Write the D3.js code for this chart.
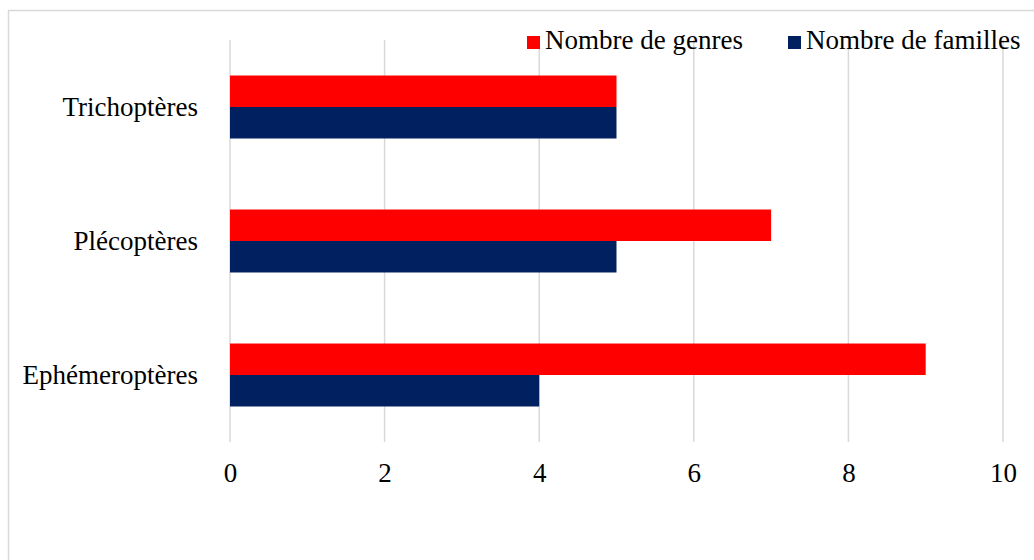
<!DOCTYPE html>
<html>
<head>
<meta charset="utf-8">
<script src="https://cdn.jsdelivr.net/npm/d3@7"></script>
<style>
  html, body { margin: 0; padding: 0; background: #fff; }
  svg { display: block; }
</style>
</head>
<body>
<svg id="chart" width="1034" height="560"></svg>
<script>
// Orders of aquatic insects, listed bottom to top as in the chart
const categories = ["Ephémeroptères", "Plécoptères", "Trichoptères"];
const seriesNames = ["Nombre de genres", "Nombre de familles"];
const genres = [9, 7, 5];
const familles = [4, 5, 5];
const xTicks = [0, 2, 4, 6, 8, 10];
const colors = ["#ff0000", "#002060"];

const svg = d3.select("#chart");
const W = 1034, H = 560;
const margin = { left: 230, right: 31, top: 40, bottom: 118 };
const fontSize = 27;
const serif = "'Liberation Serif', 'Times New Roman', serif";

// outer frame of the chart area
svg.append("rect")
  .attr("x", 8.5).attr("y", 10.5)
  .attr("width", 1040).attr("height", 560)
  .attr("fill", "none").attr("stroke", "#d9d9d9").attr("stroke-width", 1.5);

const x = d3.scaleLinear().domain([0, 10]).range([margin.left, W - margin.right]);
const y = d3.scaleBand()
  .domain(categories.slice().reverse())
  .range([margin.top, H - margin.bottom])
  .paddingInner(0.53).paddingOuter(0.265);
const ySeries = d3.scaleBand().domain(seriesNames).range([0, y.bandwidth()]);

// vertical gridlines
svg.append("g").selectAll("line").data(xTicks).join("line")
  .attr("x1", d => x(d)).attr("x2", d => x(d))
  .attr("y1", margin.top).attr("y2", H - margin.bottom)
  .attr("stroke", "#d9d9d9").attr("stroke-width", 1.5);

// bars
const rows = categories.map((c, i) => ({ cat: c, values: [genres[i], familles[i]] }));
const groups = svg.append("g").selectAll("g").data(rows).join("g")
  .attr("transform", d => `translate(0,${y(d.cat)})`);
groups.selectAll("rect")
  .data(d => d.values.map((v, j) => ({ name: seriesNames[j], v, j })))
  .join("rect")
  .attr("x", x(0))
  .attr("y", d => ySeries(d.name))
  .attr("width", d => x(d.v) - x(0))
  .attr("height", ySeries.bandwidth())
  .attr("fill", d => colors[d.j]);

// x axis labels (no axis line)
const xAxis = d3.axisBottom(x).tickValues(xTicks).tickSize(0).tickPadding(0);
const gx = svg.append("g").attr("transform", `translate(0,${H - margin.bottom})`).call(xAxis);
gx.select(".domain").remove();
gx.selectAll("text")
  .attr("y", 40).attr("dy", 0)
  .style("font-size", fontSize + "px")
  .style("font-family", serif)
  .attr("fill", "#000");

// category labels
const yAxis = d3.axisLeft(y).tickSize(0).tickPadding(32);
const gy = svg.append("g").attr("transform", `translate(${margin.left},0)`).call(yAxis);
gy.select(".domain").remove();
gy.selectAll("text")
  .style("font-size", fontSize + "px")
  .style("font-family", serif)
  .attr("fill", "#000");

// legend
const legendX = [527, 788];
const legend = svg.append("g").selectAll("g").data(seriesNames).join("g")
  .attr("transform", (d, i) => `translate(${legendX[i]},36)`);
legend.append("rect").attr("width", 13).attr("height", 13).attr("fill", (d, i) => colors[i]);
legend.append("text").attr("x", 18).attr("y", 13)
  .style("font-size", fontSize + "px")
  .style("font-family", serif)
  .attr("fill", "#000")
  .text(d => d);
</script>
</body>
</html>
